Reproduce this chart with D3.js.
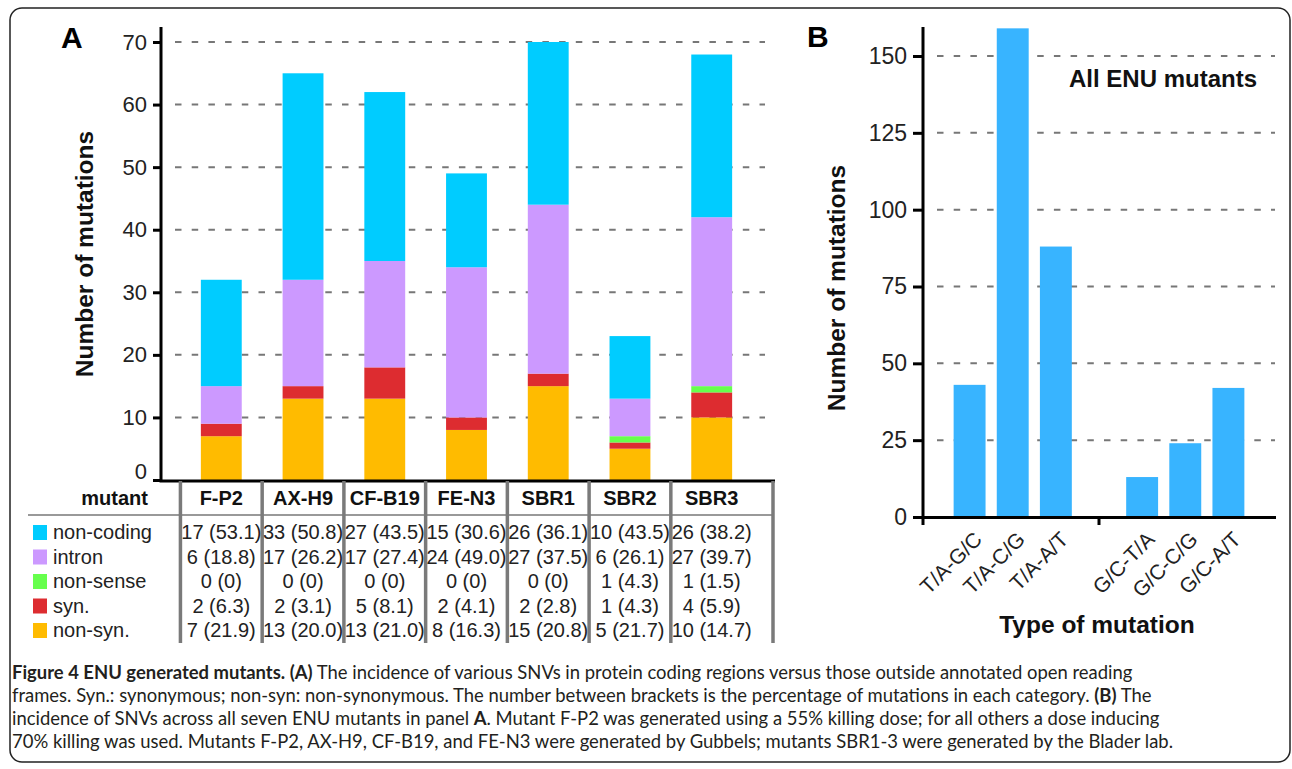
<!DOCTYPE html>
<html>
<head>
<meta charset="utf-8">
<script src="https://cdnjs.cloudflare.com/ajax/libs/d3/7.8.5/d3.min.js"></script>
<style>
  body { margin: 0; background: #fff; }
  svg { display: block; font-family: "Liberation Sans", Arial, sans-serif; }
  .tick text { fill: #222; }
</style>
</head>
<body>
<div id="chart"></div>
<script>
// Panel A data: mutants and counts per category
var mutants = ["F-P2", "AX-H9", "CF-B19", "FE-N3", "SBR1", "SBR2", "SBR3"];
var categories = ["non-coding", "intron", "non-sense", "syn.", "non-syn."];
var nonCoding = [17, 33, 27, 15, 26, 10, 26];
var intron = [6, 17, 17, 24, 27, 6, 27];
var nonSense = [0, 0, 0, 0, 0, 1, 1];
var syn = [2, 2, 5, 2, 2, 1, 4];
var nonSyn = [7, 13, 13, 8, 15, 5, 10];
// percentages shown in the table
var pctNonCoding = ["53.1", "50.8", "43.5", "30.6", "36.1", "43.5", "38.2"];
var pctIntron = ["18.8", "26.2", "27.4", "49.0", "37.5", "26.1", "39.7"];
var pctNonSense = ["0", "0", "0", "0", "0", "4.3", "1.5"];
var pctSyn = ["6.3", "3.1", "8.1", "4.1", "2.8", "4.3", "5.9"];
var pctNonSyn = ["21.9", "20.0", "21.0", "16.3", "20.8", "21.7", "14.7"];
var yTicksA = [0, 10, 20, 30, 40, 50, 60, 70];

// Panel B data
var mutationTypes = ["T/A-G/C", "T/A-C/G", "T/A-A/T", "G/C-T/A", "G/C-C/G", "G/C-A/T"];
var typeCounts = [43, 159, 88, 13, 24, 42];
var yTicksB = [0, 25, 50, 75, 100, 125, 150];

var colors = {
  "non-coding": "#00ccff",
  "intron": "#cc99ff",
  "non-sense": "#66ff4d",
  "syn.": "#dd2c30",
  "non-syn.": "#ffbb00"
};

var svgWidth = 1292;
var svgHeight = 769;

var svg = d3.select("#chart")
  .append("svg")
  .attr("width", svgWidth)
  .attr("height", svgHeight);

// outer frame
svg.append("rect")
  .attr("x", 10).attr("y", 8)
  .attr("width", 1280).attr("height", 754)
  .attr("rx", 12)
  .attr("fill", "none")
  .attr("stroke", "#222")
  .attr("stroke-width", 1.5);

// ---------- Panel A ----------
var counts = {
  "non-coding": nonCoding, "intron": intron, "non-sense": nonSense,
  "syn.": syn, "non-syn.": nonSyn
};
var pcts = {
  "non-coding": pctNonCoding, "intron": pctIntron, "non-sense": pctNonSense,
  "syn.": pctSyn, "non-syn.": pctNonSyn
};

var rowsA = mutants.map(function(m, i) {
  var row = { mutant: m };
  categories.forEach(function(c) { row[c] = counts[c][i]; });
  return row;
});

var xA = d3.scaleBand()
  .domain(mutants)
  .range([160, 773])
  .padding(0.5);

var yA = d3.scaleLinear()
  .domain([0, 70])
  .range([480, 42]);

// gridlines
svg.append("g")
  .selectAll("line")
  .data(yTicksA.slice(1))
  .enter()
  .append("line")
  .attr("x1", 175).attr("x2", 765)
  .attr("y1", d => yA(d)).attr("y2", d => yA(d))
  .attr("stroke", "#777")
  .attr("stroke-width", 2)
  .attr("stroke-dasharray", "6.5,10.2");

// stacked bars, bottom to top
var stackA = d3.stack().keys(categories.slice().reverse())(rowsA);

svg.append("g")
  .selectAll("g")
  .data(stackA)
  .enter()
  .append("g")
  .attr("fill", d => colors[d.key])
  .selectAll("rect")
  .data(d => d)
  .enter()
  .append("rect")
  .attr("x", d => xA(d.data.mutant))
  .attr("width", xA.bandwidth())
  .attr("y", d => yA(d[1]))
  .attr("height", d => yA(d[0]) - yA(d[1]));

// y axis
var leftAxisA = d3.axisLeft(yA).tickValues(yTicksA).tickSize(8).tickPadding(6);
var yAxisA = svg.append("g")
  .attr("transform", "translate(161,0)")
  .call(leftAxisA);
yAxisA.select(".domain").remove();
yAxisA.selectAll(".tick line").attr("stroke", "#000").attr("stroke-width", 3);
yAxisA.selectAll(".tick text").attr("font-size", 22);
// the zero label sits a little above the axis line
yAxisA.selectAll(".tick text").filter(d => d === 0).attr("y", -9);
svg.append("line")
  .attr("x1", 161).attr("x2", 161)
  .attr("y1", 27).attr("y2", 481.5)
  .attr("stroke", "#000").attr("stroke-width", 3);

// x axis line on top of table
svg.append("line")
  .attr("x1", 159.5).attr("x2", 775)
  .attr("y1", 481).attr("y2", 481)
  .attr("stroke", "#000").attr("stroke-width", 3);

svg.append("text")
  .attr("transform", "translate(93,254) rotate(-90)")
  .attr("text-anchor", "middle")
  .attr("font-size", 24.5)
  .attr("font-weight", "bold")
  .attr("fill", "#111")
  .text("Number of mutations");

svg.append("text")
  .attr("x", 61).attr("y", 48)
  .attr("font-size", 30)
  .attr("font-weight", "bold")
  .text("A");

// table under panel A
var colEdges = mutants.map(m => xA(m) - (xA.step() - xA.bandwidth()) / 2);
colEdges.push(773);

svg.append("line")
  .attr("x1", 28).attr("x2", 773)
  .attr("y1", 515).attr("y2", 515)
  .attr("stroke", "#999").attr("stroke-width", 2);

svg.append("g")
  .selectAll("line")
  .data(colEdges)
  .enter()
  .append("line")
  .attr("x1", d => d).attr("x2", d => d)
  .attr("y1", 481).attr("y2", 643)
  .attr("stroke", "#7a7a7a")
  .attr("stroke-width", 3.5);

svg.append("text")
  .attr("x", 148).attr("y", 505)
  .attr("text-anchor", "end")
  .attr("font-size", 20)
  .attr("font-weight", "bold")
  .attr("fill", "#111")
  .text("mutant");

svg.append("g")
  .selectAll("text")
  .data(mutants)
  .enter()
  .append("text")
  .attr("x", d => xA(d) + xA.bandwidth() / 2)
  .attr("y", 505)
  .attr("text-anchor", "middle")
  .attr("font-size", 20)
  .attr("font-weight", "bold")
  .attr("fill", "#111")
  .text(d => d);

var rowY = d3.scalePoint()
  .domain(categories)
  .range([539, 637]);

var legendRows = svg.append("g")
  .selectAll("g")
  .data(categories)
  .enter()
  .append("g")
  .attr("transform", d => `translate(0, ${rowY(d)})`);

legendRows.append("rect")
  .attr("x", 33).attr("y", -14)
  .attr("width", 14).attr("height", 15)
  .attr("fill", d => colors[d]);

legendRows.append("text")
  .attr("x", 53)
  .attr("font-size", 20)
  .attr("fill", "#222")
  .text(d => d);

legendRows.each(function(cat) {
  d3.select(this).selectAll(".cell")
    .data(mutants)
    .enter()
    .append("text")
    .attr("class", "cell")
    .attr("x", d => xA(d) + xA.bandwidth() / 2)
    .attr("text-anchor", "middle")
    .attr("font-size", 20)
    .attr("fill", "#222")
    .text((d, i) => counts[cat][i] + " (" + pcts[cat][i] + ")");
});

// ---------- Panel B ----------
var slotsB = mutationTypes.slice(0, 3).concat([""], mutationTypes.slice(3));

var xB = d3.scaleBand()
  .domain(slotsB)
  .range([923, 1275])
  .paddingInner(0.26)
  .paddingOuter(0.71);

var yB = d3.scaleLinear()
  .domain([0, 150])
  .range([517, 56]);

svg.append("g")
  .selectAll("line")
  .data(yTicksB.slice(1))
  .enter()
  .append("line")
  .attr("x1", 937).attr("x2", 1275)
  .attr("y1", d => yB(d)).attr("y2", d => yB(d))
  .attr("stroke", "#777")
  .attr("stroke-width", 2)
  .attr("stroke-dasharray", "6.5,10.2");

svg.append("g")
  .selectAll("rect")
  .data(mutationTypes)
  .enter()
  .append("rect")
  .attr("x", d => xB(d))
  .attr("width", xB.bandwidth())
  .attr("y", (d, i) => yB(typeCounts[i]))
  .attr("height", (d, i) => yB(0) - yB(typeCounts[i]))
  .attr("fill", "#38b4ff");

var leftAxisB = d3.axisLeft(yB).tickValues(yTicksB).tickSize(10).tickPadding(6);
var yAxisB = svg.append("g")
  .attr("transform", "translate(923,0)")
  .call(leftAxisB);
yAxisB.select(".domain").remove();
yAxisB.selectAll(".tick line").attr("stroke", "#000").attr("stroke-width", 3);
yAxisB.selectAll(".tick text").attr("font-size", 23);
svg.append("line")
  .attr("x1", 923).attr("x2", 923)
  .attr("y1", 27).attr("y2", 525)
  .attr("stroke", "#000").attr("stroke-width", 3);

// x axis with a single tick in the gap
svg.append("line")
  .attr("x1", 921.5).attr("x2", 1276)
  .attr("y1", 517.5).attr("y2", 517.5)
  .attr("stroke", "#000").attr("stroke-width", 3);
svg.append("line")
  .attr("x1", xB("") + xB.bandwidth() / 2).attr("x2", xB("") + xB.bandwidth() / 2)
  .attr("y1", 517).attr("y2", 525)
  .attr("stroke", "#000").attr("stroke-width", 3);

svg.append("g")
  .selectAll("text")
  .data(mutationTypes)
  .enter()
  .append("text")
  .attr("transform", d => `translate(${xB(d) + xB.bandwidth() / 2 + 3}, 530) rotate(-45)`)
  .attr("text-anchor", "end")
  .attr("dy", "0.72em")
  .attr("font-size", 21)
  .attr("fill", "#222")
  .text(d => d);

svg.append("text")
  .attr("x", 1097).attr("y", 633)
  .attr("text-anchor", "middle")
  .attr("font-size", 24.5)
  .attr("font-weight", "bold")
  .attr("fill", "#111")
  .text("Type of mutation");

svg.append("text")
  .attr("transform", "translate(845,288) rotate(-90)")
  .attr("text-anchor", "middle")
  .attr("font-size", 24.5)
  .attr("font-weight", "bold")
  .attr("fill", "#111")
  .text("Number of mutations");

svg.append("text")
  .attr("x", 1163).attr("y", 87)
  .attr("text-anchor", "middle")
  .attr("font-size", 24)
  .attr("font-weight", "bold")
  .attr("fill", "#111")
  .text("All ENU mutants");

svg.append("text")
  .attr("x", 807).attr("y", 47)
  .attr("font-size", 30)
  .attr("font-weight", "bold")
  .text("B");

// ---------- Caption ----------
var captionLines = [
  [["Figure 4 ENU generated mutants. (A)", true], [" The incidence of various SNVs in protein coding regions versus those outside annotated open reading", false]],
  [["frames. Syn.: synonymous; non-syn: non-synonymous. The number between brackets is the percentage of mutations in each category. ", false], ["(B)", true], [" The", false]],
  [["incidence of SNVs across all seven ENU mutants in panel ", false], ["A", true], [". Mutant F-P2 was generated using a 55% killing dose; for all others a dose inducing", false]],
  [["70% killing was used. Mutants F-P2, AX-H9, CF-B19, and FE-N3 were generated by Gubbels; mutants SBR1-3 were generated by the Blader lab.", false]]
];

var caption = svg.append("g")
  .attr("font-family", "Lato, 'Open Sans', sans-serif")
  .attr("font-size", 20)
  .attr("fill", "#231f20");

var captionTexts = captionLines.map(function(parts, i) {
  var t = caption.append("text")
    .attr("x", 12)
    .attr("y", 679 + i * 23);
  parts.forEach(function(p) {
    t.append("tspan")
      .attr("font-weight", p[1] ? "bold" : "normal")
      .text(p[0]);
  });
  return t;
});

// scale the caption font so the first line spans the same width as in the figure
var firstLen = captionTexts[0].node().getComputedTextLength();
caption.attr("font-size", 20 * 1121 / firstLen);
</script>
</body>
</html>
